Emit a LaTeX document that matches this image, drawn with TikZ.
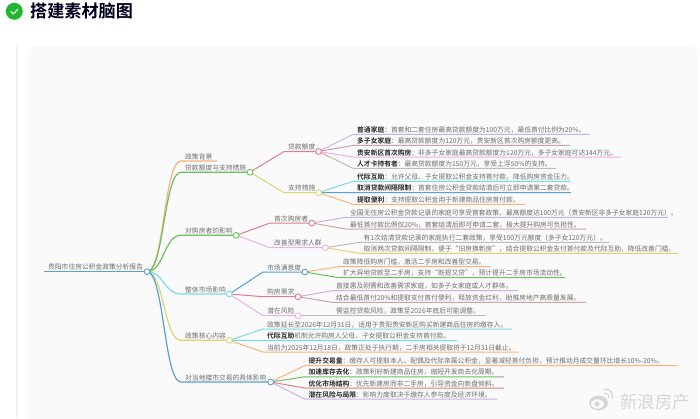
\documentclass[tikz,border=0pt]{standalone}
\usepackage{fontspec}
\setmainfont{Noto Sans CJK SC}[BoldFont={Noto Sans CJK SC Bold}]
\usetikzlibrary{calc}
\definecolor{cBlue}{HTML}{5A9FD4}
\definecolor{cOrange}{HTML}{FDB27A}
\definecolor{cGreen}{HTML}{6CC060}
\definecolor{cRed}{HTML}{E37C86}
\definecolor{cPurple}{HTML}{CBAEE4}
\definecolor{cBrown}{HTML}{C4A8A2}
\definecolor{cPink}{HTML}{EEB0E0}
\definecolor{cGray}{HTML}{BBBBBB}
\definecolor{cYellow}{HTML}{D6D673}
\definecolor{cCyan}{HTML}{76DCE8}
\definecolor{txtc}{HTML}{6E6E6E}
\definecolor{panelc}{HTML}{FAFAFA}
\definecolor{chkc}{HTML}{22B52E}
\pgfdeclarelayer{panelbg}\pgfdeclarelayer{links}
\pgfsetlayers{panelbg,links,main}
\tikzset{
  lbl/.style={inner sep=0pt,anchor=base west,text=txtc,font=\fontsize{6.8}{8}\selectfont},
  dotnode/.style={circle,draw=#1,fill=white,line width=0.9pt,minimum size=5.8pt,inner sep=0pt},
  lnk/.style={line width=1pt,#1},
}
% \dotn{name}{colour}{x}{y}
\newcommand\dotn[4]{\node[dotnode=#2] (#1) at (#3,#4) {};}
% \branch{name}{parent}{colour}{xtext}{y}{xend}{text}
\newcommand\branch[7]{%
  \node[lbl] (#1t) at (#4,#5-2) {#7};
  \coordinate (#1e) at (#6,#5);
  \begin{pgfonlayer}{links}
    \draw[lnk=#3] (#2.center) .. controls ($(#2.center)!0.5!(#4-4,#5-0)$ |- #2.center) and ($(#2.center)!0.5!(#4-4,#5-0)$ |- #1e) .. (#4-4,#5) -- (#1e);
  \end{pgfonlayer}}
% bold prefix
\newcommand\bp[1]{\textbf{\textcolor{black!85}{#1}}}
\begin{document}
\begin{tikzpicture}[x=1bp,y=-1bp]
\useasboundingbox (0,0) rectangle (700,418);
\begin{pgfonlayer}{panelbg}
  \fill[panelc,rounded corners=8bp] (28,46) rectangle (698,430);
  \fill[black!6] (16,46) rectangle (17.5,418);
\end{pgfonlayer}
% title
\node[circle,fill=chkc,minimum size=17bp,inner sep=0pt] (chk) at (14.3,11.3) {};
\draw[white,line width=1bp,line cap=round,line join=round] ($(chk)+(-3.6,0.2)$) -- ($(chk)+(-1,2.6)$) -- ($(chk)+(3.8,-2.4)$);
\node[inner sep=0pt,anchor=west,text=black!88!blue,font=\fontsize{17.2}{20}\selectfont\bfseries] (title) at (30,11.3) {搭建素材脑图};
% dots
\dotn{root}{cBlue}{147}{271.7}
\dotn{loan}{cGreen}{250}{172.2}
\dotn{buy}{cGreen}{236.3}{235.3}
\dotn{mkt}{cCyan}{229.3}{294}
\dotn{core}{cYellow}{229.3}{340.3}
\dotn{deal}{cBlue}{270.7}{382}
\dotn{limit}{cRed}{318.6}{151.5}
\dotn{supp}{cYellow}{318.6}{192.6}
\dotn{first}{cRed}{311.8}{223}
\dotn{impr}{cPink}{325.3}{247.7}
\dotn{sat}{cBlue}{304.8}{272}
\dotn{need}{cRed}{298}{296.7}
\dotn{risk}{cPink}{298}{315.7}
% root
\coordinate (rootw) at (44,271.7);
\coordinate (bge) at (217,161);
\node[lbl] (roott) at (48,269.7) {贵阳市住房公积金政策分析报告};
\begin{pgfonlayer}{links}
  \draw[cBlue,line width=1.4pt] (rootw) -- (root.center);
  \draw[lnk=cOrange,line width=1.2pt] (root.center) .. controls (164,271.7) and (164,161) .. (181,161) -- (bge);
  \draw[lnk=cGreen,line width=1.2pt] (root.center) .. controls (164,271.7) and (164,172.2) .. (181,172.2) -- (loan.center);
  \draw[lnk=cGreen,line width=1.2pt] (root.center) .. controls (164,271.7) and (164,235.3) .. (181,235.3) -- (buy.center);
  \draw[lnk=cCyan,line width=1.2pt] (root.center) .. controls (164,271.7) and (164,294) .. (181,294) -- (mkt.center);
  \draw[lnk=cYellow,line width=1.2pt] (root.center) .. controls (164,271.7) and (164,340.3) .. (181,340.3) -- (core.center);
  \draw[lnk=cBlue,line width=1.2pt] (root.center) .. controls (164,271.7) and (164,382) .. (181,382) -- (deal.center);
  % second level
  \foreach \p/\c/\col/\xs/\yy in {loan/limit/cRed/284/151.5,loan/supp/cYellow/284/192.6,buy/first/cRed/270/223,buy/impr/cPink/270/247.7,mkt/sat/cBlue/263/272,mkt/need/cRed/263/296.7,mkt/risk/cPink/263/315.7}{
    \draw[lnk=\col] (\p.center) .. controls ($(\p.center)!0.5!(\xs,\yy)$ |- \p.center) and ($(\p.center)!0.5!(\xs,\yy)$ |- \c.center) .. (\xs,\yy) -- (\c.center);
  }
\end{pgfonlayer}
% level 1 labels
\node[lbl] (bg) at (185,159) {政策背景};
\node[lbl] (loant) at (185,170.2) {贷款额度与支持措施};
\node[lbl] (buyt) at (185,233.3) {对购房者的影响};
\node[lbl] (mktt) at (185,292) {整体市场影响};
\node[lbl] (coret) at (185,338.3) {政策核心内容};
\node[lbl] (dealt) at (185,380) {对当地楼市交易的具体影响};
% level 2 labels
\node[lbl] (limitt) at (288,149.5) {贷款额度};
\node[lbl] (suppt) at (288,190.6) {支持措施};
\node[lbl] (firstt) at (274,221) {首次购房者};
\node[lbl] (imprt) at (274,245.7) {改善型需求人群};
\node[lbl] (satt) at (267,270) {市场满意度};
\node[lbl] (needt) at (267,294.7) {购房需求};
\node[lbl] (riskt) at (267,313.7) {潜在风险};
% leaves
\branch{a1}{limit}{cPurple}{357}{134.3}{590}{\bp{普通家庭}：首套和二套住房最高贷款额度为100万元，最低首付比例为20\%。}
\branch{a2}{limit}{cBrown}{357}{145.4}{570}{\bp{多子女家庭}：最高贷款额度为120万元，贵安新区首次购房额度更高。}
\branch{a3}{limit}{cPink}{357}{157}{621}{\bp{贵安新区首次购房}：非多子女家庭最高贷款额度为120万元，多子女家庭可达144万元。}
\branch{a4}{limit}{cGray}{357}{168.3}{556}{\bp{人才卡持有者}：最高贷款额度为150万元，享受上浮50\%的支持。}
\branch{b1}{supp}{cCyan}{357}{181.3}{570.7}{\bp{代际互助}：允许父母、子女提取公积金支持首付款，降低购房资金压力。}
\branch{b2}{supp}{cBlue}{357}{192.7}{571}{\bp{取消贷款间隔限制}：首套住房公积金贷款结清后可立即申请第二套贷款。}
\branch{b3}{supp}{cOrange}{357}{204.3}{525}{\bp{提取便利}：支持提取公积金用于新建商品住房首付款。}
\branch{c1}{first}{cPurple}{350}{217.3}{668}{全国无住房公积金贷款记录的家庭可享受首套政策，最高额度达100万元（贵安新区非多子女家庭120万元）。}
\branch{c2}{first}{cBrown}{350}{229}{586}{最低首付款比例仅20\%，首套结清后即可申请二套，极大提升购房可负担性。}
\branch{d1}{impr}{cGray}{363.5}{242.3}{609}{有1次结清贷款记录的家庭执行二套政策，享受100万元额度（多子女120万元）。}
\branch{d2}{impr}{cYellow}{363.5}{253.3}{678}{取消两次贷款间隔限制，便于“旧房换新房”，结合提取公积金支付首付款及代际互助，降低改善门槛。}
\branch{e1}{sat}{cOrange}{343}{266.7}{490.7}{政策降低购房门槛，激活二手房和改善型交易。}
\branch{e2}{sat}{cGreen}{343}{277.7}{565}{扩大异地贷款至二手房，支持“既提又贷”，预计提升二手房市场流动性。}
\branch{f1}{need}{cPurple}{336}{290.7}{518}{直接惠及刚需和改善需求家庭，如多子女家庭或人才群体。}
\branch{f2}{need}{cBrown}{336}{302.3}{586}{结合最低首付20\%和提取支付首付便利，释放资金红利，助推房地产高质量发展。}
\branch{g1}{risk}{cGray}{336}{315.7}{485.7}{需监控贷款风险，政策至2026年底后可能调整。}
\branch{h1}{core}{cCyan}{267}{329}{512}{政策延长至2026年12月31日，适用于贵阳贵安新区购买新建商品住房的缴存人。}
\branch{h2}{core}{cCyan}{267}{340.6}{457}{\bp{代际互助}机制允许购房人父母、子女提取公积金支持首付款。}
\branch{h3}{core}{cOrange}{267}{352}{518}{当前为2025年12月18日，政策正处于执行期，二手房相关提取将于12月31日截止。}
\branch{i1}{deal}{cOrange}{308.5}{365.7}{677}{\bp{提升交易量}：缴存人可提取本人、配偶及代际亲属公积金，显著减轻首付负担，预计推动月成交量环比增长10\%-20\%。}
\branch{i2}{deal}{cGreen}{308.5}{376.8}{504}{\bp{加速库存去化}：政策利好新建商品住房，缩短开发商去化周期。}
\branch{i3}{deal}{cRed}{308.5}{388}{504}{\bp{优化市场结构}：优先新建房而非二手房，引导资金向新盘倾斜。}
\branch{i4}{deal}{cPurple}{308.5}{399}{497}{\bp{潜在风险与局限}：影响力度取决于缴存人参与度及经济环境。}
% watermark
\node[inner sep=0pt,anchor=west,text=black!16,font=\fontsize{17.5}{20}\selectfont] (wm) at (620,401.5) {新浪房产};
\fill[black!16,even odd rule] (598.5,403) ellipse [x radius=9.5,y radius=7.5] (597.5,404) ellipse [x radius=6.5,y radius=4.8];
\fill[black!16] (597,404) circle [radius=2.5];
\draw[black!16,line width=1.4bp,line cap=round] (604,389.5) .. controls (610,388.5) and (614,393) .. (612,398.5);
\draw[black!16,line width=1.2bp,line cap=round] (604.5,393.5) .. controls (607.5,393) and (609.5,395) .. (608.5,398);
\end{tikzpicture}
\end{document}
